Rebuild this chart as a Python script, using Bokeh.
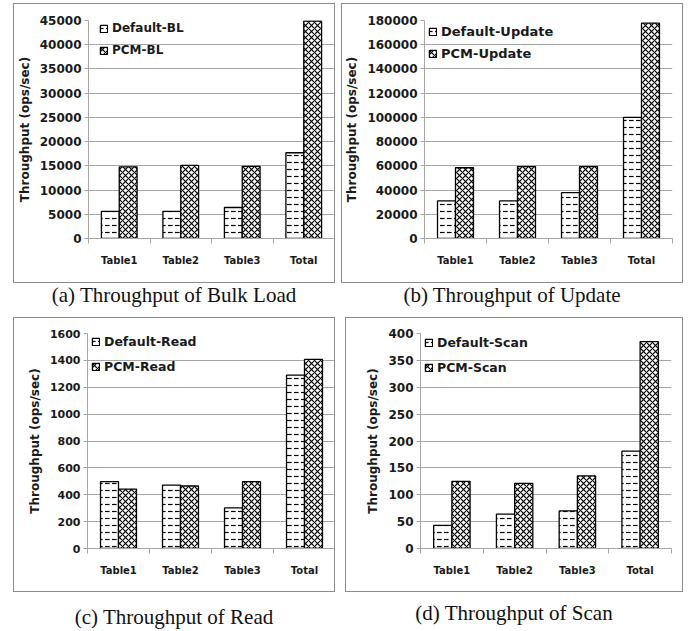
from bokeh.plotting import figure
from bokeh.models import (ColumnDataSource, Range1d, FixedTicker, SingleIntervalTicker,
                          NumeralTickFormatter, Legend, LegendItem, Div, Spacer)
from bokeh.layouts import column, row
from bokeh.embed import file_html
from bokeh.resources import INLINE

# ---------------- data ----------------
categories = ["Table1", "Table2", "Table3", "Total"]

bl_default = [5600, 5600, 6400, 17700]
bl_pcm = [14800, 15100, 14900, 44900]

update_default = [31000, 31000, 37800, 100000]
update_pcm = [58400, 59400, 59400, 177800]

read_default = [497, 472, 303, 1290]
read_pcm = [442, 465, 497, 1407]

scan_default = [43, 64, 70, 181]
scan_pcm = [125, 121, 135, 385]

FONT = "DejaVu Sans"
GRID = "#a6a6a6"
TXT = "#1a1a1a"


def panel(default_vals, pcm_vals, names, ymax, yint, width, height,
          mb, legend_xy, legend_spacing, legend_font, tick_font):
    left, right, top, bottom = mb
    p = figure(width=width, height=height, output_backend="svg", toolbar_location=None,
               x_range=Range1d(0, len(categories)), y_range=Range1d(0, ymax),
               min_border_left=left, min_border_right=right,
               min_border_top=top, min_border_bottom=bottom,
               outline_line_color=None, background_fill_color="white",
               border_fill_color="white", margin=0,
               styles={"border": "1px solid #8c8c8c", "box-sizing": "border-box"})
    bw = 0.29
    centers = [i + 0.5 for i in range(len(categories))]
    src_d = ColumnDataSource(dict(x=[c - bw / 2 for c in centers], top=default_vals))
    src_p = ColumnDataSource(dict(x=[c + bw / 2 for c in centers], top=pcm_vals))
    r1 = p.vbar(x="x", top="top", bottom=0, width=bw, source=src_d,
                fill_color="white", line_color="black", line_width=1.3,
                hatch_pattern="horizontal_dash", hatch_color="black",
                hatch_scale=7, hatch_weight=1.2)
    r2 = p.vbar(x="x", top="top", bottom=0, width=bw, source=src_p,
                fill_color="white", line_color="black", line_width=1.3,
                hatch_pattern="diagonal_cross", hatch_color="black",
                hatch_scale=6, hatch_weight=1.2)

    # x axis: labels at category centres, ticks at boundaries
    xa = p.xaxis[0]
    xa.ticker = FixedTicker(ticks=centers, minor_ticks=list(range(len(categories) + 1)))
    xa.major_label_overrides = {c: n for c, n in zip(centers, categories)}
    xa.major_tick_line_color = None
    xa.major_tick_out = 0
    xa.major_tick_in = 0
    xa.minor_tick_line_color = GRID
    xa.minor_tick_out = 5
    xa.minor_tick_in = 0
    xa.axis_line_color = GRID
    xa.major_label_standoff = 11
    xa.major_label_text_font = FONT
    xa.major_label_text_font_style = "bold"
    xa.major_label_text_font_size = "10px"
    xa.major_label_text_color = TXT

    ya = p.yaxis[0]
    ya.ticker = SingleIntervalTicker(interval=yint, num_minor_ticks=0)
    ya.formatter = NumeralTickFormatter(format="0")
    ya.axis_line_color = GRID
    ya.major_tick_line_color = GRID
    ya.major_tick_out = 4
    ya.major_tick_in = 0
    ya.minor_tick_line_color = None
    ya.major_label_standoff = 3
    ya.major_label_text_font = FONT
    ya.major_label_text_font_style = "bold"
    ya.major_label_text_font_size = tick_font
    ya.major_label_text_color = TXT
    ya.axis_label = "Throughput (ops/sec)"
    ya.axis_label_text_font = FONT
    ya.axis_label_text_font_style = "bold"
    ya.axis_label_text_font_size = "12px"
    ya.axis_label_text_color = TXT
    ya.axis_label_standoff = 5

    p.xgrid.visible = False
    p.ygrid.grid_line_color = GRID
    p.ygrid.grid_line_width = 1

    legend = Legend(items=[LegendItem(label=names[0], renderers=[r1]),
                           LegendItem(label=names[1], renderers=[r2])],
                    location=legend_xy, padding=0, margin=0, spacing=legend_spacing,
                    glyph_width=9, glyph_height=9, label_height=20, label_standoff=4,
                    label_text_font=FONT, label_text_font_style="bold",
                    label_text_font_size=legend_font, label_text_color=TXT,
                    border_line_color=None, background_fill_alpha=0)
    p.add_layout(legend, "center")
    return p


def caption(text, width, height, pad):
    return Div(text=f'<div style="width:{width}px;text-align:center;font-family:\'Liberation Serif\';'
                    f'font-size:21px;line-height:24px;padding-top:{pad}px;color:#111">{text}</div>',
               width=width, height=height, margin=0)


pa = panel(bl_default, bl_pcm, ["Default-BL", "PCM-BL"], 45000, 5000, 322, 280,
           (74, 2, 16, 46), (11, 178), 2, "12px", "12px")
pb = panel(update_default, update_pcm, ["Default-Update", "PCM-Update"], 180000, 20000, 342, 280,
           (82, 12, 15, 46), (4, 175), 2, "13px", "12px")
pc = panel(read_default, read_pcm, ["Default-Read", "PCM-Read"], 1600, 200, 322, 275,
           (73, 1, 14, 45), (4, 172), 5, "12.5px", "11px")
pd = panel(scan_default, scan_pcm, ["Default-Scan", "PCM-Scan"], 400, 50, 338, 275,
           (74, 13, 15, 44), (4, 171), 5, "12.5px", "12px")

layout = column(
    Spacer(height=3, margin=0),
    row(Spacer(width=13, margin=0), pa, Spacer(width=6, margin=0), pb),
    row(Spacer(width=13, margin=0), caption("(a) Throughput of Bulk Load", 322, 24, 0),
        Spacer(width=6, margin=0), caption("(b) Throughput of Update", 342, 24, 0)),
    Spacer(height=10, margin=0),
    row(Spacer(width=13, margin=0), pc, Spacer(width=10, margin=0), pd),
    row(Spacer(width=13, margin=0), caption("(c) Throughput of Read", 322, 38, 13),
        Spacer(width=10, margin=0), caption("(d) Throughput of Scan", 338, 38, 9)),
)

open("out.html", "w").write(file_html(layout, INLINE))
